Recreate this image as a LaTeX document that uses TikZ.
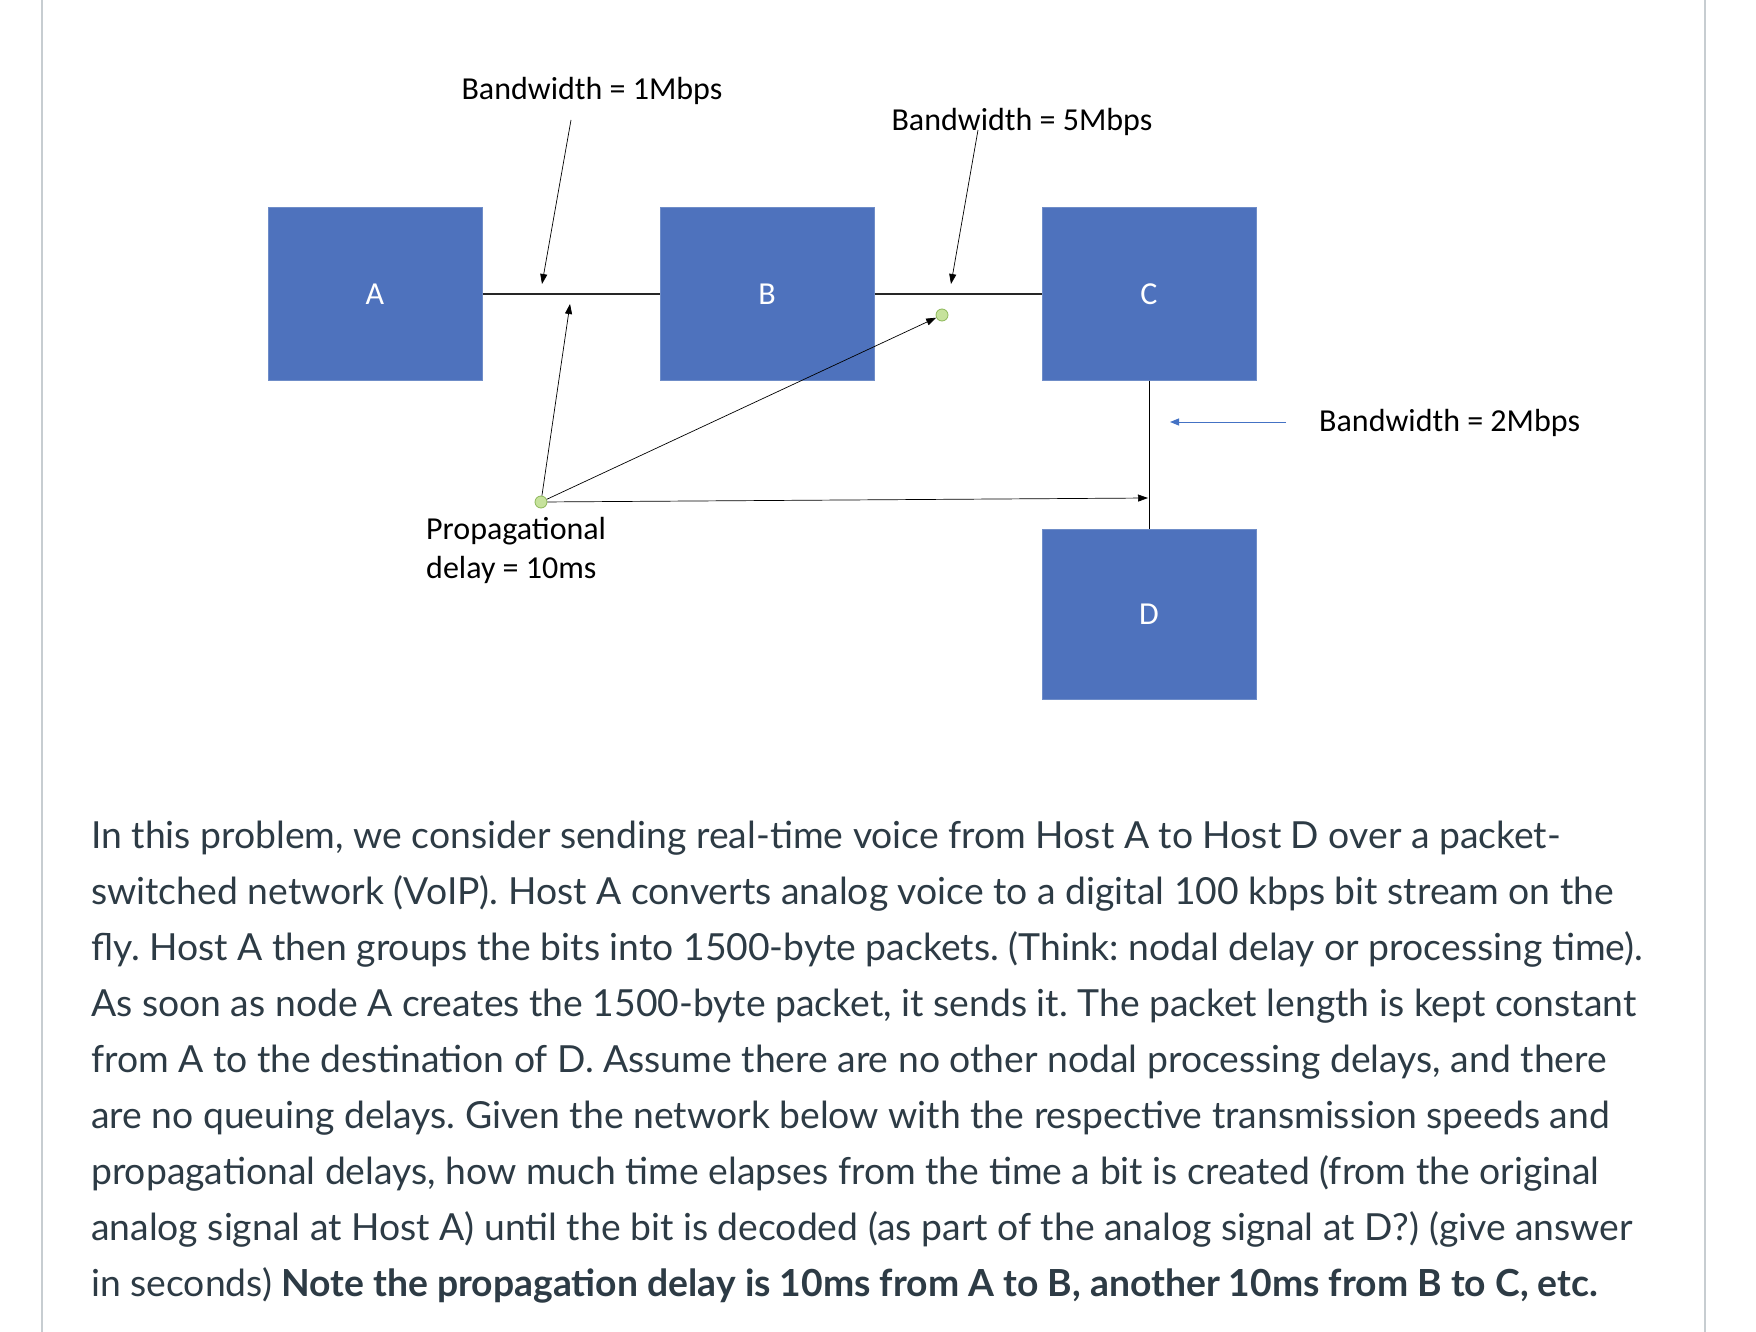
\documentclass[tikz,border=0pt]{standalone}
\usepackage{fontspec}
\setmainfont{Lato}
\newfontfamily\diagfont{Carlito}
\usetikzlibrary{arrows.meta}
\definecolor{boxblue}{HTML}{4E72BD}
\definecolor{boxedge}{HTML}{6F8DC8}
\definecolor{textgrey}{HTML}{2D3B45}
\definecolor{bordergrey}{HTML}{C7CDD1}
\definecolor{dotfill}{HTML}{C6E29C}
\definecolor{dotedge}{HTML}{8DB85A}
\definecolor{arrowblue}{HTML}{4472C4}
\frenchspacing
\begin{document}
\begin{tikzpicture}[x=1pt,y=-1pt,
  hostbox/.style={draw=boxedge, line width=1pt, fill=boxblue, inner sep=0pt,
    minimum width=214pt, minimum height=172pt, text=white,
    font=\diagfont\fontsize{32}{38}\selectfont},
  lbl/.style={inner sep=0pt, font=\diagfont\fontsize{32}{39}\selectfont, text=black},
  link/.style={line width=1.4pt, draw=black!85},
  thinlink/.style={line width=1pt, draw=black},
  pointer/.style={line width=0.7pt, draw=black, -{Triangle[length=10pt,width=7pt]}},
  bluepointer/.style={line width=1pt, draw=arrowblue, -{Triangle[length=9pt,width=7pt]}},
  dotnode/.style={circle, draw=dotedge, fill=dotfill, line width=0.8pt, minimum size=12pt, inner sep=0pt},
  bodyline/.style={anchor=mid west, inner sep=0pt, text=textgrey, font=\fontsize{37.3}{44}\selectfont}
]
\useasboundingbox (0,0) rectangle (1756,1332);
\fill[white] (0,0) rectangle (1756,1332);
% page borders
\draw[bordergrey, line width=2pt] (42,0) -- (42,1332);
\draw[bordergrey, line width=2pt] (1705,0) -- (1705,1332);

% hosts
\node[hostbox] (A) at (375,294) {A};
\node[hostbox] (B) at (767,294) {B};
\node[hostbox] (C) at (1149,294) {C};
\node[hostbox, minimum height=170pt] (D) at (1149,614) {D};

% links
\draw[link] (A.east) -- (B.west);
\draw[link] (B.east) -- (C.west);
\draw[thinlink] (C.south) -- (D.north);

% bandwidth labels
\node[lbl] (bw1) at (592,91) {Bandwidth = 1Mbps};
\coordinate (bw1s) at (571,120);
\coordinate (bw1e) at (542,284);
\draw[pointer] (bw1s) -- (bw1e);

\node[lbl] (bw2) at (1022,122) {Bandwidth = 5Mbps};
\coordinate (bw2s) at (978,130);
\coordinate (bw2e) at (951,284);
\draw[pointer] (bw2s) -- (bw2e);

\node[lbl, anchor=west] (bw3) at (1319,423) {Bandwidth = 2Mbps};
\coordinate (bw3s) at (1286,422);
\coordinate (bw3e) at (1170,422);
\draw[bluepointer] (bw3s) -- (bw3e);

% propagation markers
\node[dotnode] (p1) at (942,315) {};
\node[dotnode] (p2) at (541,502) {};
\coordinate (pab) at (570,304);
\coordinate (pcd) at (1148,498);
\draw[pointer] (p2) -- (pab);
\draw[pointer] (p2) -- (p1);
\draw[pointer] (p2) -- (pcd);
\node[lbl, anchor=west, align=left] (prop) at (426,550) {Propagational\\delay = 10ms};

% body text
\node[bodyline] (t1) at (91,846) {In this problem, we consider sending real-time voice from Host A to Host D over a packet-};
\node[bodyline] (t2) at (91,902) {switched network (VoIP). Host A converts analog voice to a digital 100 kbps bit stream on the};
\node[bodyline] (t3) at (91,958) {fly. Host A then groups the bits into 1500-byte packets. (Think: nodal delay or processing time).};
\node[bodyline] (t4) at (91,1014) {As soon as node A creates the 1500-byte packet, it sends it. The packet length is kept constant};
\node[bodyline] (t5) at (91,1070) {from A to the destination of D. Assume there are no other nodal processing delays, and there};
\node[bodyline] (t6) at (91,1126) {are no queuing delays. Given the network below with the respective transmission speeds and};
\node[bodyline] (t7) at (91,1182) {propagational delays, how much time elapses from the time a bit is created (from the original};
\node[bodyline] (t8) at (91,1238) {analog signal at Host A) until the bit is decoded (as part of the analog signal at D?) (give answer};
\node[bodyline] (t9) at (91,1294) {in seconds) \textbf{Note the propagation delay is 10ms from A to B, another 10ms from B to C, etc.}};
\end{tikzpicture}
\end{document}
